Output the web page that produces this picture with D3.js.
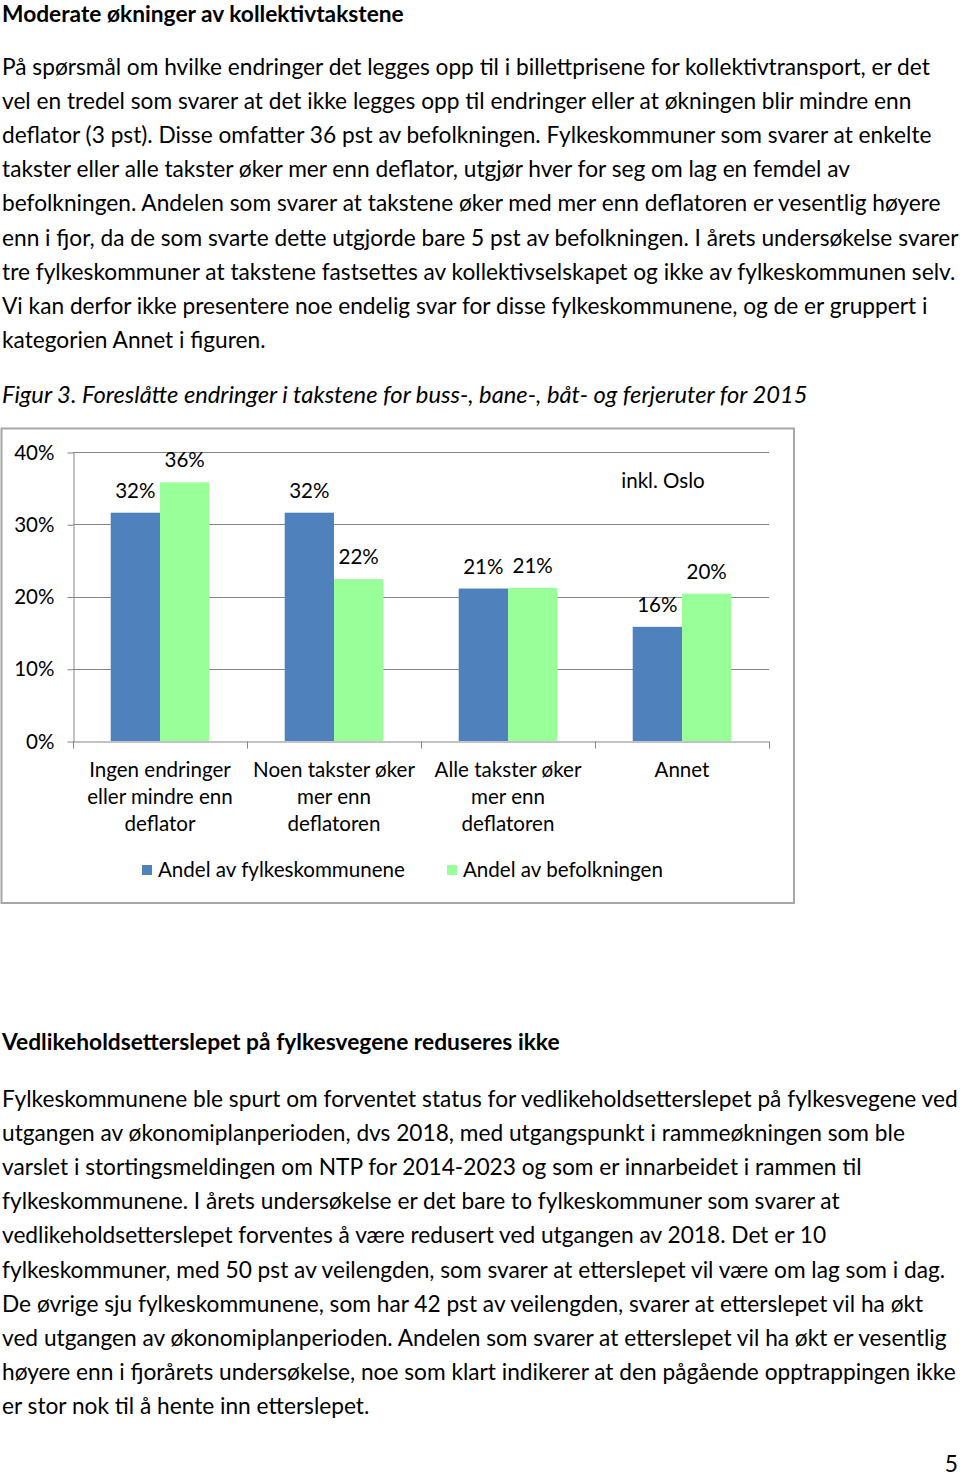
<!DOCTYPE html>
<html><head><meta charset="utf-8">
<script src="https://cdn.jsdelivr.net/npm/d3@7"></script>
<style>body{margin:0;background:#fff}svg{display:block}</style>
</head><body><svg id="page"></svg>
<script>
// ---------------- DATA ----------------
const title1 = "Moderate økninger av kollektivtakstene";
const para1 = [
  "På spørsmål om hvilke endringer det legges opp til i billettprisene for kollektivtransport, er det",
  "vel en tredel som svarer at det ikke legges opp til endringer eller at økningen blir mindre enn",
  "deflator (3 pst). Disse omfatter 36 pst av befolkningen. Fylkeskommuner som svarer at enkelte",
  "takster eller alle takster øker mer enn deflator, utgjør hver for seg om lag en femdel av",
  "befolkningen. Andelen som svarer at takstene øker med mer enn deflatoren er vesentlig høyere",
  "enn i fjor, da de som svarte dette utgjorde bare 5 pst av befolkningen. I årets undersøkelse svarer",
  "tre fylkeskommuner at takstene fastsettes av kollektivselskapet og ikke av fylkeskommunen selv.",
  "Vi kan derfor ikke presentere noe endelig svar for disse fylkeskommunene, og de er gruppert i",
  "kategorien Annet i figuren."
];
const caption = "Figur 3. Foreslåtte endringer i takstene for buss-, bane-, båt- og ferjeruter for 2015";
const title2 = "Vedlikeholdsetterslepet på fylkesvegene reduseres ikke";
const para2 = [
  "Fylkeskommunene ble spurt om forventet status for vedlikeholdsetterslepet på fylkesvegene ved",
  "utgangen av økonomiplanperioden, dvs 2018, med utgangspunkt i rammeøkningen som ble",
  "varslet i stortingsmeldingen om NTP for 2014-2023 og som er innarbeidet i rammen til",
  "fylkeskommunene. I årets undersøkelse er det bare to fylkeskommuner som svarer at",
  "vedlikeholdsetterslepet forventes å være redusert ved utgangen av 2018. Det er 10",
  "fylkeskommuner, med 50 pst av veilengden, som svarer at etterslepet vil være om lag som i dag.",
  "De øvrige sju fylkeskommunene, som har 42 pst av veilengden, svarer at etterslepet vil ha økt",
  "ved utgangen av økonomiplanperioden. Andelen som svarer at etterslepet vil ha økt er vesentlig",
  "høyere enn i fjorårets undersøkelse, noe som klart indikerer at den pågående opptrappingen ikke",
  "er stor nok til å hente inn etterslepet."
];
const pageNumber = "5";

const categories = ["Ingen endringer eller mindre enn deflator", "Noen takster øker mer enn deflatoren", "Alle takster øker mer enn deflatoren", "Annet"];
const categoryLines = [
  ["Ingen endringer", "eller mindre enn", "deflator"],
  ["Noen takster øker", "mer enn", "deflatoren"],
  ["Alle takster øker", "mer enn", "deflatoren"],
  ["Annet"]
];
const seriesNames = ["Andel av fylkeskommunene", "Andel av befolkningen"];
const shareCounties = [31.6, 31.6, 21.1, 15.8];
const sharePopulation = [35.8, 22.4, 21.2, 20.4];
const yTicks = [0, 10, 20, 30, 40];
const annotation = "inkl. Oslo";
const seriesColors = ["#4f81bd", "#99ff99"];

// ---------------- PAGE ----------------
const W = 960, H = 1476;
const FONT = "Lato, 'Open Sans', sans-serif";
const svg = d3.select("#page").attr("width", W).attr("height", H)
  .style("font-family", FONT);
svg.append("rect").attr("width", W).attr("height", H).attr("fill", "#fff");

function fit(str, target, weight, style) {
  const t = svg.append("text").attr("font-size", 100)
    .attr("font-weight", weight || "normal").attr("font-style", style || "normal").text(str);
  const w = t.node().getComputedTextLength();
  t.remove();
  return 100 * target / w;
}

const X0 = 2;
const bodySize = fit(para1[5], 957);
const t1Size = fit(title1, 402, "bold");
const t2Size = fit(title2, 558, "bold");
const capSize = fit(caption, 806, "normal", "italic");

svg.append("text").attr("x", X0).attr("y", 21.5).attr("font-size", t1Size)
  .attr("font-weight", "bold").attr("fill", "#000").text(title1);

svg.append("g").selectAll("text").data(para1).join("text")
  .attr("x", X0).attr("y", (d, i) => 75 + i * 34.1)
  .attr("font-size", bodySize).attr("fill", "#000").text(d => d);

svg.append("text").attr("x", X0).attr("y", 403).attr("font-size", capSize)
  .attr("font-style", "italic").attr("fill", "#000").text(caption);

svg.append("text").attr("x", X0).attr("y", 1050).attr("font-size", t2Size)
  .attr("font-weight", "bold").attr("fill", "#000").text(title2);

svg.append("g").selectAll("text").data(para2).join("text")
  .attr("x", X0).attr("y", (d, i) => 1107 + i * 34.1)
  .attr("font-size", bodySize).attr("fill", "#000").text(d => d);

svg.append("text").attr("x", 958).attr("y", 1472).attr("text-anchor", "end")
  .attr("font-size", bodySize).attr("fill", "#000").text(pageNumber);

// ---------------- CHART ----------------
const chartSize = fit(seriesNames[0], 247);
svg.append("rect").attr("x", 1.5).attr("y", 428.5).attr("width", 792.5).attr("height", 474.5)
  .attr("fill", "#fff").attr("stroke", "#a6a6a6").attr("stroke-width", 2);

const plot = { left: 73, right: 769, top: 452, bottom: 741 };
const y = d3.scaleLinear().domain([0, 40]).range([plot.bottom, plot.top]);
const x0 = d3.scaleBand().domain(categories).range([plot.left, plot.right]).paddingInner(0).paddingOuter(0);
const x1 = d3.scaleBand().domain(seriesNames).range([0, x0.bandwidth()]).paddingInner(0).paddingOuter(0.765);

const chart = svg.append("g");
const gridColor = "#868686";

// gridlines
chart.append("g").selectAll("line").data(yTicks.filter(d => d > 0)).join("line")
  .attr("x1", plot.left).attr("x2", plot.right)
  .attr("y1", d => Math.round(y(d)) + 0.5).attr("y2", d => Math.round(y(d)) + 0.5)
  .attr("stroke", gridColor).attr("stroke-width", 1);

// y axis
const yAxis = d3.axisLeft(y).tickValues(yTicks).tickFormat(d => d + "%").tickSizeInner(6).tickSizeOuter(0).tickPadding(13);
const gy = chart.append("g").attr("transform", `translate(${plot.left + 0.5},0.5)`).call(yAxis);
gy.selectAll("path,line").attr("stroke", gridColor);
gy.selectAll("text").attr("font-size", chartSize).attr("font-family", FONT).attr("fill", "#000");

// bars
const rows = categories.map((c, i) => ({ cat: c, vals: [shareCounties[i], sharePopulation[i]] }));
const groups = chart.append("g").selectAll("g").data(rows).join("g")
  .attr("transform", d => `translate(${x0(d.cat)},0)`);
groups.selectAll("rect").data(d => d.vals.map((v, j) => ({ s: seriesNames[j], v, j }))).join("rect")
  .attr("x", d => x1(d.s)).attr("width", x1.bandwidth())
  .attr("y", d => y(d.v)).attr("height", d => y(0) - y(d.v))
  .attr("fill", d => seriesColors[d.j]);
groups.selectAll("text").data(d => d.vals.map((v, j) => ({ s: seriesNames[j], v, j }))).join("text")
  .attr("x", d => x1(d.s) + x1.bandwidth() / 2).attr("y", d => y(d.v) - 15)
  .attr("text-anchor", "middle").attr("font-size", chartSize).attr("fill", "#000")
  .text(d => Math.round(d.v) + "%");

// x axis
const xAxis = d3.axisBottom(x0).tickSizeInner(0).tickSizeOuter(0).tickFormat("");
const gx = chart.append("g").attr("transform", `translate(0,${plot.bottom + 0.5})`).call(xAxis);
gx.selectAll("path").attr("stroke", gridColor);
gx.selectAll(".tick").remove();
const boundaries = categories.map(c => x0(c)).concat([x0.range()[1]]);
gx.selectAll("line.sep").data(boundaries).join("line").attr("class", "sep")
  .attr("x1", d => Math.round(d) + 0.5).attr("x2", d => Math.round(d) + 0.5)
  .attr("y1", 0).attr("y2", 7).attr("stroke", gridColor);

// category labels
const catG = chart.append("g").selectAll("text").data(categories).join("text")
  .attr("text-anchor", "middle").attr("font-size", chartSize).attr("fill", "#000");
catG.selectAll("tspan").data((d, i) => categoryLines[i].map(l => ({ l, c: d }))).join("tspan")
  .attr("x", d => x0(d.c) + x0.bandwidth() / 2).attr("y", (d, k) => 777 + k * 27)
  .text(d => d.l);

// annotation
chart.append("text").attr("x", x0(categories[3]) + x0.bandwidth() / 2 - 19).attr("y", 488)
  .attr("text-anchor", "middle").attr("font-size", chartSize).attr("fill", "#000").text(annotation);

// legend
const legendX = [142, 447];
const leg = chart.append("g").selectAll("g").data(seriesNames).join("g")
  .attr("transform", (d, i) => `translate(${legendX[i]},870)`);
leg.append("rect").attr("x", 0).attr("y", -5).attr("width", 10).attr("height", 10)
  .attr("fill", (d, i) => seriesColors[i]);
leg.append("text").attr("x", 16).attr("y", 7).attr("font-size", chartSize).attr("fill", "#000").text(d => d);
</script></body></html>
